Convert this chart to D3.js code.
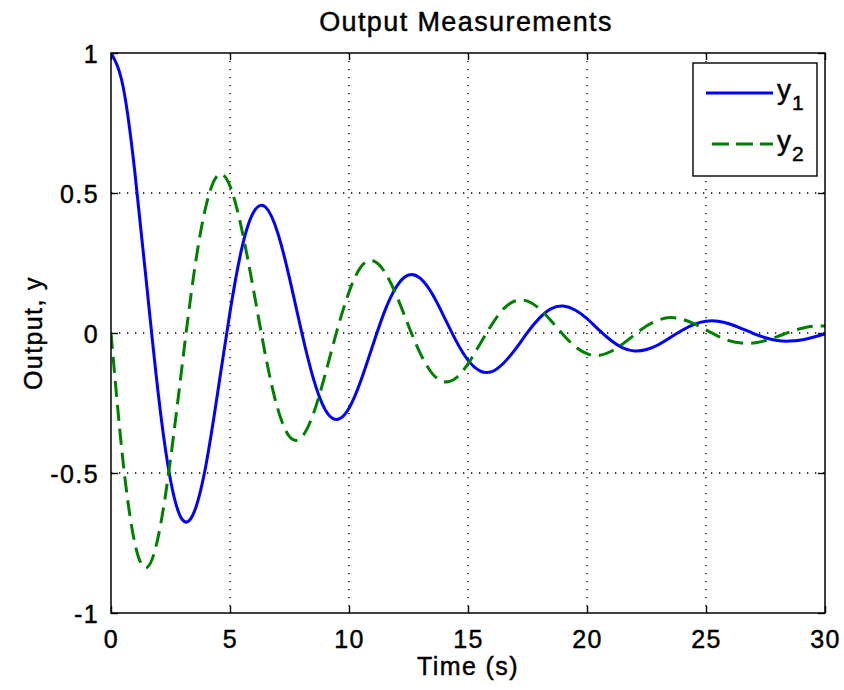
<!DOCTYPE html>
<html>
<head>
<meta charset="utf-8">
<script src="https://cdn.jsdelivr.net/npm/d3@7"></script>
<style>
  html, body { margin: 0; padding: 0; background: #fff; }
  svg { display: block; }
  text { font-family: "Liberation Sans", Arial, Helvetica, sans-serif; fill: #000; stroke: #000; stroke-width: 0.45px; }
</style>
</head>
<body>
<svg id="chart" width="844" height="690"></svg>
<script>
// ---- data ----
const time = [0,0.5,1,1.5,2,2.5,3,3.5,4,4.5,5,5.5,6,6.5,7,7.5,8,8.5,9,9.5,10,10.5,11,11.5,12,12.5,13,13.5,14,14.5,15,15.5,16,16.5,17,17.5,18,18.5,19,19.5,20,20.5,21,21.5,22,22.5,23,23.5,24,24.5,25,25.5,26,26.5,27,27.5,28,28.5,29,29.5,30];
const y1 = [1,0.883,0.576,0.171,-0.227,-0.525,-0.667,-0.638,-0.467,-0.203,0.075,0.304,0.433,0.449,0.359,0.196,0.007,-0.162,-0.274,-0.309,-0.269,-0.170,-0.044,0.078,0.166,0.207,0.195,0.139,0.057,-0.028,-0.097,-0.135,-0.138,-0.107,-0.057,0.002,0.053,0.087,0.096,0.082,0.051,0.011,-0.026,-0.053,-0.064,-0.059,-0.042,-0.016,0.010,0.031,0.042,0.042,0.032,0.016,-0.002,-0.017,-0.027,-0.029,-0.025,-0.015,-0.003];
const y2 = [0,-0.454,-0.750,-0.838,-0.721,-0.451,-0.108,0.221,0.457,0.564,0.525,0.368,0.148,-0.084,-0.269,-0.370,-0.373,-0.289,-0.148,0.010,0.146,0.236,0.258,0.218,0.133,0.026,-0.074,-0.145,-0.174,-0.160,-0.110,-0.040,0.030,0.087,0.115,0.114,0.087,0.043,-0.006,-0.048,-0.074,-0.080,-0.066,-0.039,-0.006,0.025,0.046,0.055,0.049,0.033,0.011,-0.011,-0.028,-0.036,-0.036,-0.027,-0.013,0.003,0.016,0.024,0.025];
const xTicks = [0,5,10,15,20,25,30];
const yTicks = [-1,-0.5,0,0.5,1];
const yTickLabels = ["-1","-0.5","0","0.5","1"];
const seriesNames = ["y1","y2"];
const titleText = "Output Measurements";
const xLabelText = "Time (s)";
const yLabelText = "Output, y";

// ---- layout ----
const svg = d3.select("#chart");
const L = 111, R = 825, T = 53, B = 613;
const x = d3.scaleLinear().domain([0,30]).range([L,R]);
const y = d3.scaleLinear().domain([-1,1]).range([B,T]);

const FS = 25, LS = "1.4px";

// grid
const grid = svg.append("g");
grid.selectAll("line.gx").data(xTicks.slice(1,-1)).enter().append("line")
  .attr("x1", d=>x(d)).attr("x2", d=>x(d)).attr("y1", T).attr("y2", B)
  .attr("stroke","#000").attr("stroke-width",1.3).attr("stroke-dasharray","1.3,6.7");
grid.selectAll("line.gy").data(yTicks.slice(1,-1)).enter().append("line")
  .attr("y1", d=>y(d)).attr("y2", d=>y(d)).attr("x1", L).attr("x2", R)
  .attr("stroke","#000").attr("stroke-width",1.3).attr("stroke-dasharray","1.3,6.7");

// axes with inward ticks
const tickLen = 7;
const axB = svg.append("g").attr("transform",`translate(0,${B})`)
  .call(d3.axisBottom(x).tickValues(xTicks).tickSize(-tickLen).tickPadding(12).tickFormat(d3.format("d")));
const axT = svg.append("g").attr("transform",`translate(0,${T})`)
  .call(d3.axisTop(x).tickValues(xTicks).tickSize(-tickLen).tickFormat(""));
const axL = svg.append("g").attr("transform",`translate(${L},0)`)
  .call(d3.axisLeft(y).tickValues(yTicks).tickSize(-tickLen).tickPadding(12).tickFormat((d,i)=>yTickLabels[i]));
const axR = svg.append("g").attr("transform",`translate(${R},0)`)
  .call(d3.axisRight(y).tickValues(yTicks).tickSize(-tickLen).tickFormat(""));
[axB,axT,axL,axR].forEach(a=>{
  a.select(".domain").remove();
  a.selectAll(".tick line").attr("stroke","#000").attr("stroke-width",1.4);
  a.selectAll(".tick text").attr("font-size",FS).attr("letter-spacing",LS)
    .attr("font-family","'Liberation Sans', Arial, sans-serif").attr("fill","#000");
});
axB.selectAll(".tick text").attr("dy","0.9em");
axL.selectAll(".tick text").attr("dy","0.36em");

// lines
svg.append("clipPath").attr("id","clip").append("rect")
  .attr("x",L).attr("y",T).attr("width",R-L).attr("height",B-T);
const lineGen = vals => d3.line().x((d,i)=>x(time[i])).y(d=>y(d)).curve(d3.curveNatural)(vals);
const plot = svg.append("g").attr("clip-path","url(#clip)");
plot.append("path").attr("d", lineGen(y1)).attr("fill","none").attr("stroke","#0000ff").attr("stroke-width",3);
plot.append("path").attr("d", lineGen(y2)).attr("fill","none").attr("stroke","#008000").attr("stroke-width",3).attr("stroke-dasharray","16,8");

// box
svg.append("rect").attr("x",L).attr("y",T).attr("width",R-L).attr("height",B-T)
  .attr("fill","none").attr("stroke","#000").attr("stroke-width",1.5);

// title & labels
svg.append("text").attr("x",(L+R)/2 - 2).attr("y",31).attr("text-anchor","middle")
  .attr("font-size",27).attr("letter-spacing",LS).text(titleText);
svg.append("text").attr("x",(L+R)/2).attr("y",675).attr("text-anchor","middle")
  .attr("font-size",FS).attr("letter-spacing",LS).text(xLabelText);
svg.append("text").attr("transform",`translate(42,${(T+B)/2}) rotate(-90)`).attr("text-anchor","middle")
  .attr("font-size",FS).attr("letter-spacing",LS).text(yLabelText);

// legend
const lg = svg.append("g");
lg.append("rect").attr("x",693).attr("y",63).attr("width",124).attr("height",113)
  .attr("fill","#fff").attr("stroke","#000").attr("stroke-width",1.4);
const legendItems = [
  {name: seriesNames[0], color:"#0000ff", dash:null, yy:93, x1:706},
  {name: seriesNames[1], color:"#008000", dash:"17,7", yy:144, x1:712}
];
legendItems.forEach(it=>{
  lg.append("line").attr("x1",it.x1).attr("x2",773).attr("y1",it.yy).attr("y2",it.yy)
    .attr("stroke",it.color).attr("stroke-width",3).attr("stroke-dasharray",it.dash);
  const t = lg.append("text").attr("x",777).attr("y",it.yy+6).attr("font-size",28);
  t.append("tspan").text(it.name.charAt(0));
  t.append("tspan").attr("font-size",21).attr("dy",11).attr("dx",1).text(it.name.slice(1));
});
</script>
</body>
</html>
